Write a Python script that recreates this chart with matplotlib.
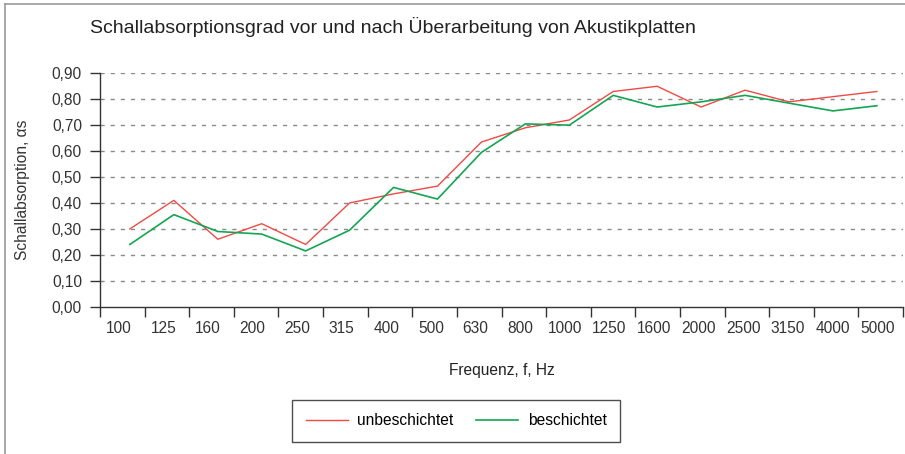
import numpy as np
import matplotlib
matplotlib.use("Agg")
from matplotlib import pyplot as plt
from matplotlib.lines import Line2D
from matplotlib.ticker import FuncFormatter

# Frequenzbaender (Terz), Hz
frequencies = ["100", "125", "160", "200", "250", "315", "400", "500", "630",
               "800", "1000", "1250", "1600", "2000", "2500", "3150", "4000", "5000"]

unbeschichtet = [0.30, 0.41, 0.26, 0.32, 0.24, 0.40, 0.435, 0.465, 0.635, 0.69,
                 0.72, 0.83, 0.85, 0.77, 0.835, 0.79, 0.81, 0.83]
beschichtet = [0.24, 0.355, 0.29, 0.28, 0.215, 0.295, 0.46, 0.415, 0.595, 0.705,
               0.70, 0.815, 0.77, 0.79, 0.815, 0.785, 0.755, 0.775]

plt.rcParams['font.family'] = ['Liberation Sans', 'DejaVu Sans']
fs = 11.2

fig = plt.figure(figsize=(9.05, 4.54), dpi=100)
ax = fig.add_axes([0.1105, 0.3245, 0.8873, 0.514])

n = len(frequencies)
# Messpunkte liegen im Original leicht versetzt zu den Kategorien
x = np.arange(n) * 0.985 + 0.67

ax.plot(x, unbeschichtet, color="#ef4a44", lw=1.0, label="unbeschichtet")
ax.plot(x, beschichtet, color="#14a552", lw=1.2, label="beschichtet")

ax.set_xlim(0, n)
ax.set_ylim(0, 0.9)
ax.set_yticks(np.arange(0, 0.91, 0.1))
ax.yaxis.set_major_formatter(FuncFormatter(lambda v, p: f"{v:.2f}".replace(".", ",")))

ax.set_xticks(np.arange(n + 1))
ax.set_xticklabels([])
ax.set_xticks(np.arange(n) + 0.42, minor=True)
ax.set_xticklabels(frequencies, minor=True)
ax.tick_params(axis="x", which="minor", length=0, pad=10, labelsize=fs, colors="#333333")
ax.tick_params(axis="x", which="major", length=7, width=1, color="#333333")
ax.tick_params(axis="y", length=7, width=1, color="#333333", labelsize=fs,
               labelcolor="#333333", pad=6)

for v in np.arange(0.1, 0.91, 0.1):
    ax.axhline(v, color="#8a8a8a", lw=1, ls=(0, (3, 4.3)), zorder=0)

for s in ["top", "right"]:
    ax.spines[s].set_visible(False)
for s in ["left", "bottom"]:
    ax.spines[s].set_color("#333333")
    ax.spines[s].set_linewidth(1)

ax.set_ylabel("Schallabsorption, \u03b1s", fontsize=fs, color="#333333", labelpad=16)
ax.set_xlabel("Frequenz, f, Hz", fontsize=fs, color="#222222", labelpad=20)

fig.text(0.0995, 0.94, "Schallabsorptionsgrad vor und nach \u00dcberarbeitung von Akustikplatten",
         fontsize=14, color="#222222", va="center", ha="left")

leg = fig.legend(loc="center", bbox_to_anchor=(0.504, 0.0727), ncol=2, frameon=True,
                 fancybox=False, edgecolor="#222222", fontsize=fs, handlelength=2.7,
                 columnspacing=1.5, borderpad=0.85, handletextpad=0.6)
leg.get_frame().set_linewidth(1.0)

# Rahmen oben und links
fig.add_artist(Line2D([0.005, 0.005], [0, 0.991], transform=fig.transFigure, color="#999999", lw=1.2))
fig.add_artist(Line2D([0.005, 1.0], [0.991, 0.991], transform=fig.transFigure, color="#999999", lw=1.2))

fig.savefig("out.png", dpi=100)
